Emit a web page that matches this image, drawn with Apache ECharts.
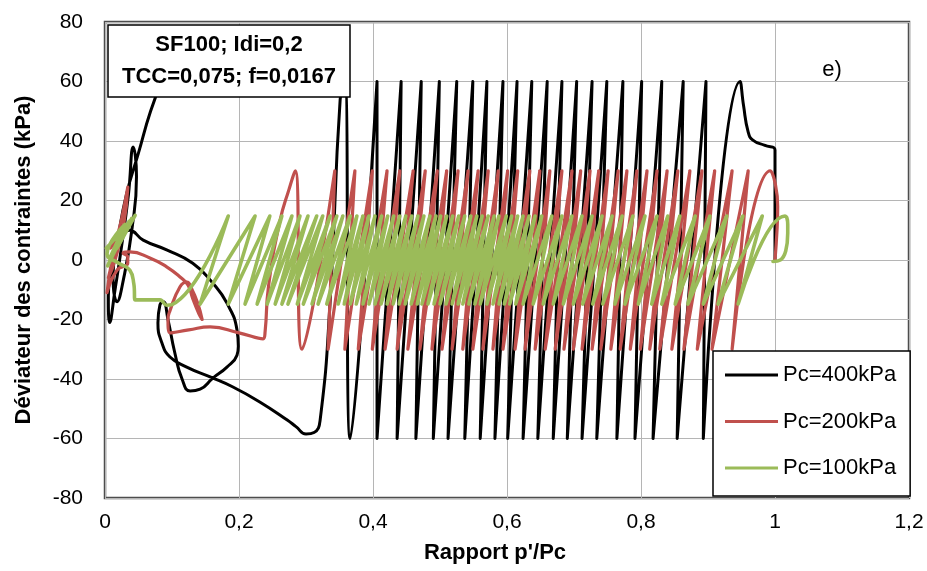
<!DOCTYPE html>
<html>
<head>
<meta charset="utf-8">
<script src="https://cdn.jsdelivr.net/npm/echarts@6/dist/echarts.min.js"></script>
<style>
  html, body { margin: 0; padding: 0; background: #fff; }
  #chart { width: 927px; height: 571px; }
</style>
</head>
<body>
<div id="chart"></div>
<script>
// ---- Axis ticks ----
const xTicks = [0, 0.2, 0.4, 0.6, 0.8, 1, 1.2];
const yTicks = [-80, -60, -40, -20, 0, 20, 40, 60, 80];

// ---- Series names ----
const seriesNames = ['Pc=400kPa', 'Pc=200kPa', 'Pc=100kPa'];

// ---- Pc=400kPa (black): cyclic amplitude, start, peaks/troughs (p'/Pc), end ----
const blackAmp = 60;
const blackStart = [[1.0, 0], [1.0, 20], [1.0, 37], [0.985, 38.5], [0.967, 40.3], [0.960, 43], [0.953, 52]];
const blackPeaks = [0.948, 0.897, 0.863, 0.831, 0.801, 0.773, 0.749, 0.727, 0.704, 0.682, 0.660, 0.637, 0.615, 0.594, 0.570, 0.549, 0.525, 0.499, 0.472, 0.442, 0.406, 0.358];
const blackTroughs = [0.893, 0.854, 0.818, 0.791, 0.764, 0.734, 0.712, 0.690, 0.669, 0.646, 0.624, 0.601, 0.582, 0.560, 0.537, 0.512, 0.490, 0.464, 0.436, 0.406, 0.366];
const blackEnd = [[0.351, 54], [0.336, -14], [0.321, -54], [0.312, -58], [0.300, -58.5], [0.285, -56], [0.272, -53.8], [0.231, -47.7], [0.191, -42.7], [0.157, -39.3], [0.122, -36], [0.097, -32.6], [0.085, -27.9], [0.079, -21.2], [0.082, -15.1], [0.087, -14], [0.094, -20], [0.104, -31], [0.115, -40], [0.127, -44], [0.142, -43.4], [0.161, -39.7], [0.182, -36], [0.197, -32], [0.199, -29], [0.197, -23.5], [0.182, -14.5], [0.161, -7.8], [0.131, -1.1], [0.092, 3.4], [0.057, 6.7], [0.037, 10], [0.020, 6], [0.010, -2], [0.005, -12], [0.007, -21], [0.015, -10], [0.025, 5], [0.035, 22], [0.042, 38], [0.047, 28], [0.040, 10], [0.028, -6], [0.018, -14], [0.012, -5], [0.020, 8], [0.032, 22], [0.050, 36], [0.068, 50], [0.088, 62]];

// ---- Pc=200kPa (red) ----
const redAmp = 30;
const redStart = [[1.0, 0], [1.003, 10], [1.004, 18], [1.0, 26]];
const redPeaks = [0.993, 0.960, 0.936, 0.910, 0.891, 0.873, 0.855, 0.839, 0.824, 0.809, 0.794, 0.779, 0.766, 0.751, 0.737, 0.724, 0.710, 0.697, 0.682, 0.664, 0.649, 0.634, 0.616, 0.601, 0.587, 0.572, 0.557, 0.542, 0.527, 0.510, 0.496, 0.478, 0.460, 0.440, 0.421, 0.399, 0.373, 0.343, 0.284];
const redTroughs = [0.936, 0.906, 0.884, 0.864, 0.846, 0.828, 0.813, 0.799, 0.784, 0.769, 0.755, 0.740, 0.727, 0.712, 0.699, 0.685, 0.672, 0.657, 0.642, 0.627, 0.612, 0.594, 0.579, 0.564, 0.549, 0.534, 0.518, 0.503, 0.488, 0.470, 0.452, 0.436, 0.418, 0.399, 0.378, 0.358, 0.333, 0.294];
const redEnd = [[0.275, 24], [0.261, 13], [0.244, -9], [0.239, -24], [0.236, -26.5], [0.200, -24.5], [0.157, -22.5], [0.125, -23.5], [0.097, -24.5], [0.094, -20], [0.097, -17], [0.112, -9], [0.122, -7.4], [0.130, -10], [0.139, -15], [0.145, -20], [0.140, -18], [0.131, -13], [0.124, -8.5], [0.112, -5.7], [0.092, -2.3], [0.067, 0.7], [0.037, 2.7], [0.027, 2.3], [0.034, 1], [0.034, -1], [0.018, -3.4], [0.003, -11], [0.012, 2], [0.025, 14], [0.034, 24.5], [0.028, 12], [0.015, 0], [0.005, -6], [0.020, 8], [0.008, 4]];

// ---- Pc=100kPa (green) ----
const greenAmp = 14.8;
const greenStart = [[0.997, -0.5], [1.008, 0], [1.016, 3], [1.019, 9], [1.019, 12]];
const greenPeaks = [1.015, 0.981, 0.952, 0.928, 0.903, 0.881, 0.858, 0.840, 0.824, 0.806, 0.788, 0.772, 0.757, 0.742, 0.727, 0.712, 0.697, 0.682, 0.667, 0.652, 0.642, 0.633, 0.624, 0.616, 0.607, 0.599, 0.588, 0.581, 0.572, 0.563, 0.555, 0.546, 0.537, 0.528, 0.519, 0.510, 0.501, 0.494, 0.485, 0.476, 0.467, 0.458, 0.449, 0.440, 0.431, 0.422, 0.413, 0.403, 0.394, 0.385, 0.376, 0.366, 0.355, 0.346, 0.336, 0.325, 0.316, 0.303, 0.291, 0.279, 0.264, 0.246, 0.224, 0.184];
const greenTroughs = [0.945, 0.915, 0.893, 0.870, 0.851, 0.831, 0.816, 0.796, 0.776, 0.761, 0.743, 0.728, 0.713, 0.699, 0.684, 0.669, 0.654, 0.639, 0.624, 0.613, 0.604, 0.596, 0.588, 0.579, 0.570, 0.560, 0.552, 0.543, 0.534, 0.527, 0.518, 0.509, 0.500, 0.491, 0.482, 0.473, 0.466, 0.457, 0.448, 0.439, 0.430, 0.421, 0.412, 0.403, 0.394, 0.385, 0.375, 0.366, 0.357, 0.348, 0.331, 0.318, 0.309, 0.296, 0.287, 0.273, 0.264, 0.254, 0.242, 0.227, 0.209, 0.184, 0.142];
const greenEnd = [[0.100, -15], [0.092, -15.2], [0.082, -13.4], [0.045, -13.4], [0.043, -8], [0.037, -3.4], [0.020, -1], [0.003, 2], [0.030, 12], [0.008, 1], [0.040, 14], [0.012, 2], [0.045, 15], [0.018, 4], [0.036, 13], [0.004, -2], [0.026, 10], [0.002, 4]];

// ---- Annotation text ----
const titleLines = ['SF100; Idi=0,2', 'TCC=0,075; f=0,0167'];
const panelLabel = 'e)';

function buildPath(start, peaks, troughs, amp, end) {
  const pts = start.slice();
  for (let i = 0; i < peaks.length; i++) {
    pts.push([peaks[i], amp]);
    if (i < troughs.length) pts.push([troughs[i], -amp]);
  }
  return pts.concat(end);
}

const fmt = v => String(Math.round(v * 10) / 10).replace('.', ',');
const FONT = "'Liberation Sans', Arial, sans-serif";

const chart = echarts.init(document.getElementById('chart'), null, { renderer: 'canvas' });
const lineSeries = (name, data, color, width, smooth) => ({
  name, type: 'line', data, showSymbol: false, symbol: 'none',
  smooth, lineStyle: { color, width, join: 'round', cap: 'round' }, itemStyle: { color },
  animation: false, clip: true
});

chart.setOption({
  animation: false,
  backgroundColor: '#fff',
  grid: { left: 105, right: 18, top: 22, bottom: 73, show: true, borderColor: '#4d4d4d', borderWidth: 2.5, backgroundColor: 'transparent' },
  xAxis: {
    type: 'value', min: xTicks[0], max: xTicks[xTicks.length - 1], interval: 0.2,
    axisLine: { show: false }, axisTick: { show: false },
    splitLine: { show: true, lineStyle: { color: '#b5b5b5', width: 1 } },
    axisLabel: { formatter: fmt, color: '#000', fontSize: 21, fontFamily: FONT, margin: 14 },
    name: "Rapport p'/Pc", nameLocation: 'middle', nameGap: 44,
    nameTextStyle: { color: '#000', fontSize: 22, fontWeight: 'bold', fontFamily: FONT, padding: [0, 24, 0, 0] }
  },
  yAxis: {
    type: 'value', min: yTicks[0], max: yTicks[yTicks.length - 1], interval: 20,
    axisLine: { show: false }, axisTick: { show: false },
    splitLine: { show: true, lineStyle: { color: '#b5b5b5', width: 1 } },
    axisLabel: { color: '#000', fontSize: 21, fontFamily: FONT, margin: 22 },
    name: 'Déviateur des contraintes (kPa)', nameLocation: 'middle', nameGap: 70, nameRotate: 90,
    nameTextStyle: { color: '#000', fontSize: 22, fontWeight: 'bold', fontFamily: FONT }
  },
  legend: {
    data: seriesNames, orient: 'vertical', left: 713, top: 351,
    padding: [13, 14, 17, 12], itemGap: 24.5, itemWidth: 53, itemHeight: 3, itemTextGap: 5,
    icon: 'rect', backgroundColor: '#fff', borderColor: '#000', borderWidth: 1.5,
    textStyle: { color: '#000', fontSize: 22, fontFamily: FONT }
  },
  graphic: [
    { type: 'rect', z: 100, shape: { x: 108, y: 25, width: 242, height: 72 }, style: { fill: '#fff', stroke: '#000', lineWidth: 1.5 } },
    { type: 'text', z: 101, x: 229, y: 45, style: { text: titleLines[0], fill: '#000', font: "bold 22px 'Liberation Sans', Arial, sans-serif", textAlign: 'center', textVerticalAlign: 'middle' } },
    { type: 'text', z: 101, x: 229, y: 77, style: { text: titleLines[1], fill: '#000', font: "bold 22px 'Liberation Sans', Arial, sans-serif", textAlign: 'center', textVerticalAlign: 'middle' } },
    { type: 'text', z: 101, x: 832, y: 70, style: { text: panelLabel, fill: '#000', font: "22px 'Liberation Sans', Arial, sans-serif", textAlign: 'center', textVerticalAlign: 'middle' } }
  ],
  series: [
    lineSeries(seriesNames[0], buildPath(blackStart, blackPeaks, blackTroughs, blackAmp, blackEnd), '#000000', 3, 0.5),
    lineSeries(seriesNames[1], buildPath(redStart, redPeaks, redTroughs, redAmp, redEnd), '#c0504d', 3.2, 0.5),
    lineSeries(seriesNames[2], buildPath(greenStart, greenPeaks, greenTroughs, greenAmp, greenEnd), '#9bbb59', 3.6, 0.45)
  ]
});
</script>
</body>
</html>
